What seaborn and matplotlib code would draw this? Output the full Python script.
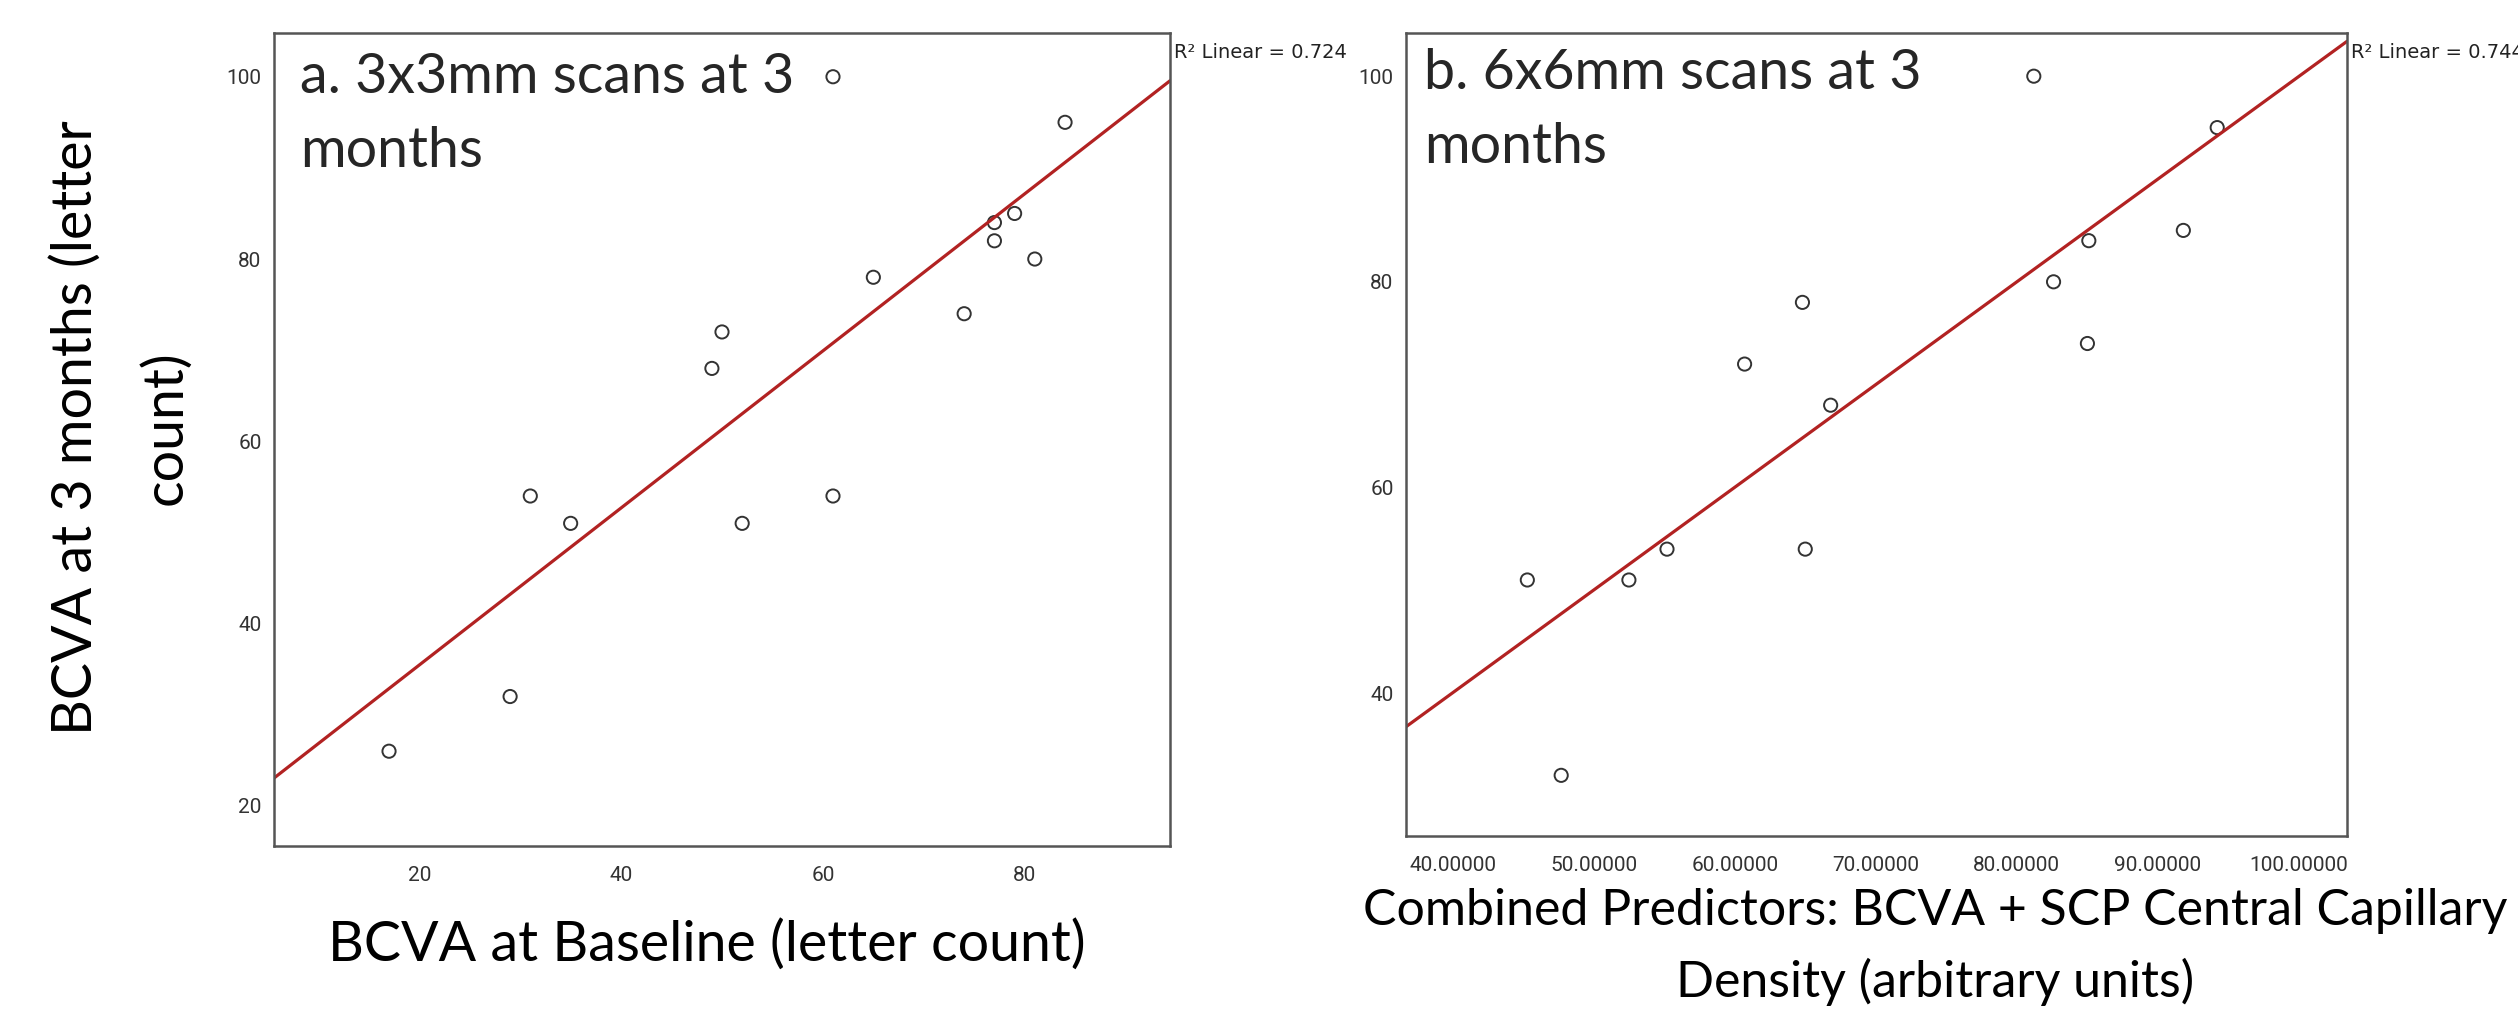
import numpy as np
import pandas as pd
import matplotlib
matplotlib.use("Agg")
import matplotlib.pyplot as plt
import seaborn as sns

# --- data ---
# panel a: BCVA at baseline vs BCVA at 3 months
bcva_baseline = [17, 29, 31, 35, 49, 50, 52, 61, 65, 74, 77, 77, 79, 81, 61, 84]
bcva_3m_a = [26, 32, 54, 51, 68, 72, 51, 54, 78, 74, 82, 84, 85, 80, 100, 95]
# panel b: combined predictor vs BCVA at 3 months
combined_pred = [45.3, 47.7, 52.5, 55.2, 60.7, 64.8, 65.0, 66.8, 82.6, 85.0, 85.1, 91.8, 81.2, 94.2]
bcva_3m_b = [51, 32, 51, 54, 72, 78, 54, 68, 80, 74, 84, 85, 100, 95]

xticks_a = [20, 40, 60, 80]
yticks_a = [20, 40, 60, 80, 100]
xticks_b = [40, 50, 60, 70, 80, 90, 100]
yticks_b = [40, 60, 80, 100]

titles = ["a. 3x3mm scans at 3\nmonths", "b. 6x6mm scans at 3\nmonths"]
r2_labels = ["R² Linear = 0.724", "R² Linear = 0.744"]
xlabel_a = "BCVA at Baseline (letter count)"
xlabel_b = "Combined Predictors: BCVA + SCP Central Capillary\nDensity (arbitrary units)"
ylabel = "BCVA at 3 months (letter\ncount)"

df_a = pd.DataFrame({"x": bcva_baseline, "y": bcva_3m_a})
df_b = pd.DataFrame({"x": combined_pred, "y": bcva_3m_b})

# --- style ---
sns.set_theme(style="white")
plt.rcParams["font.family"] = ["Lato", "DejaVu Sans"]

W, H = 2518, 1017
fig = plt.figure(figsize=(W / 100, H / 100), dpi=100)
fig.patch.set_facecolor("white")


def rect(left, top, right, bottom):
    return [left / W, 1 - bottom / H, (right - left) / W, (bottom - top) / H]


ax_a = fig.add_axes(rect(274, 33, 1170, 846))
ax_b = fig.add_axes(rect(1406, 33, 2347, 836))

ax_a.set_xlim(5.6, 94.4)
ax_a.set_ylim(15.6, 104.8)
ax_b.set_xlim(36.7, 103.4)
ax_b.set_ylim(26.1, 104.2)

scatter_style = dict(color="none", edgecolor="#333333", s=90, linewidths=1.4, alpha=1)
line_style = dict(color="#b22222", lw=2.3)

for ax, df in [(ax_a, df_a), (ax_b, df_b)]:
    sns.regplot(data=df, x="x", y="y", ax=ax, ci=None, truncate=False,
                scatter_kws=scatter_style, line_kws=line_style)
    for sp in ax.spines.values():
        sp.set_color("#555555")
        sp.set_linewidth(1.8)
    ax.tick_params(axis="both", direction="out", color="#333333", width=1.5)
    ax.tick_params(axis="y", length=8, pad=1)
    ax.tick_params(axis="x", length=9.5, pad=5)
    ax.set_xlabel("")
    ax.set_ylabel("")

tick_kw = dict(fontfamily=["Roboto", "DejaVu Sans"], fontsize=15, color="#333333")
ax_a.set_xticks(xticks_a, [str(v) for v in xticks_a], **tick_kw)
ax_a.set_yticks(yticks_a, [str(v) for v in yticks_a], **tick_kw)
ax_b.set_xticks(xticks_b, [f"{v:.5f}" for v in xticks_b], **tick_kw)
ax_b.set_yticks(yticks_b, [str(v) for v in yticks_b], **tick_kw)

# axis labels
ax_a.set_xlabel(xlabel_a, fontsize=40, color="black")
ax_a.xaxis.set_label_coords(0.483, -0.122)
ax_a.xaxis.label.set_va("center")

ax_b.set_xlabel(xlabel_b, fontsize=36, color="black", linespacing=1.6)
ax_b.xaxis.set_label_coords(0.562, -0.138)
ax_b.xaxis.label.set_va("center")

ax_a.set_ylabel(ylabel, fontsize=40, color="black", linespacing=1.9)
ax_a.yaxis.set_label_coords(-0.171, 0.514)
ax_a.yaxis.label.set_va("center")

# panel titles inside the plots
fig.text(300 / W, 1 - 114.5 / H, titles[0], fontsize=40, ha="left", va="center",
         linespacing=1.58)
fig.text(1424 / W, 1 - 110.5 / H, titles[1], fontsize=40, ha="left", va="center",
         linespacing=1.58)

# R squared notes just outside the top-right corner of each panel
fig.text(1174 / W, 1 - 52 / H, r2_labels[0], fontsize=14, ha="left", va="center",
         family="DejaVu Sans", color="#222222")
fig.text(2351 / W, 1 - 52 / H, r2_labels[1], fontsize=14, ha="left", va="center",
         family="DejaVu Sans", color="#222222")

fig.savefig("out.png", dpi=100, facecolor="white")
print("saved out.png")
